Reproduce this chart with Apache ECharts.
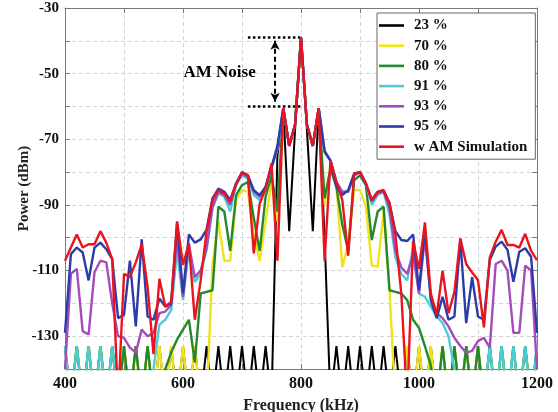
<!DOCTYPE html>
<html>
<head>
<meta charset="utf-8">
<script src="https://cdn.jsdelivr.net/npm/echarts@6/dist/echarts.min.js"></script>
<style>html,body{margin:0;padding:0;background:#fff}#c{width:558px;height:412px}</style>
</head>
<body>
<div id="c"></div>
<script>
const freq = [400,410,420,430,440,450,460,470,480,490,500,510,520,530,540,550,560,570,580,590,600,610,620,630,640,650,660,670,680,690,700,710,720,730,740,750,760,770,780,790,800,810,820,830,840,850,860,870,880,890,900,910,920,930,940,950,960,970,980,990,1000,1010,1020,1030,1040,1050,1060,1070,1080,1090,1100,1110,1120,1130,1140,1150,1160,1170,1180,1190,1200];
const seriesNames = ['23 %','70 %','80 %','91 %','93 %','95 %','w AM Simulation'];
const p23 = [-133,-150,-133,-150,-133,-150,-133,-150,-133,-150,
 -133,-150,-133,-150,-133,-150,-133,-150,-133,-150,
 -133,-150,-133,-150,-133,-150,-133,-150,-133,-150,
 -133,-150,-133,-150,-133,-150,-75,-60.5,-98,-67,
 -39,-67,-98,-60.5,-100,-150,-133,-150,-133,-150,
 -133,-150,-133,-150,-133,-150,-133,-150,-133,-150,
 -133,-150,-133,-150,-133,-150,-133,-150,-133,-150,
 -133,-150,-133,-150,-133,-150,-133,-150,-133,-150,
 -133];
const p70 = [-133,-150,-133,-150,-133,-150,-133,-150,-133,-150,
 -133,-150,-133,-150,-133,-150,-133,-150,-133,-150,
 -133,-150,-133,-150,-150,-108,-95,-107,-107,-88.5,
 -85.5,-86,-99,-107,-95,-83,-95,-60.5,-72,-65.5,
 -39,-65.5,-72,-60.5,-90,-78,-84,-109,-102,-85.5,
 -85.5,-90.5,-108.5,-108.8,-92,-116,-150,-150,-133,-150,
 -133,-150,-133,-150,-133,-150,-133,-150,-133,-150,
 -133,-150,-133,-150,-133,-150,-133,-150,-133,-150,
 -133];
const p80 = [-133,-150,-133,-150,-133,-150,-133,-150,-133,-150,
 -133,-150,-133,-150,-133,-150,-150,-140,-135,-131,
 -128,-125,-138,-117,-116.5,-116,-90.5,-92,-104,-87,
 -84,-83,-94,-104,-87.5,-81,-92,-60.5,-72,-65.5,
 -39,-65.5,-72,-60.5,-88,-79,-84.5,-96,-104,-82.5,
 -81,-84,-100.7,-92,-90.5,-116,-116.5,-117,-119,-125,
 -127.5,-133,-139,-150,-133,-150,-133,-150,-133,-150,
 -133,-150,-133,-150,-133,-150,-133,-150,-133,-150,
 -133];
const p91 = [-133,-150,-133,-150,-133,-150,-133,-150,-133,-150,
 -150,-150,-150,-150,-150,-140,-126.5,-125,-122,-104,
 -119,-103,-113.5,-111,-103.8,-91,-86.5,-87.5,-92,-84,
 -81,-82,-87,-88.5,-85,-79,-73,-60.5,-72,-65.5,
 -39,-65.5,-72,-60.5,-74,-76.5,-83,-86,-86,-81,
 -80,-83.5,-90,-87,-86,-93,-106,-111,-113,-103,
 -117,-118,-121,-124,-126,-130,-140,-150,-150,-150,
 -150,-150,-133,-150,-133,-150,-133,-150,-133,-150,
 -133];
const p93 = [-140,-111,-109.5,-128.5,-129.5,-110.5,-107,-107.5,-120,-130,
 -130.5,-133.5,-135,-128,-130,-129,-123,-122.5,-120.5,-100,
 -118,-102,-112,-110,-103,-90.5,-86,-87,-90,-83.5,
 -80.5,-81.5,-86,-87.5,-84.5,-78.5,-73,-60.5,-72,-65.5,
 -39,-65.5,-72,-60.5,-74,-76.5,-83,-86,-86,-81,
 -80,-83.5,-89,-86.5,-86,-91,-104,-109,-111,-105,
 -117,-100,-118,-123,-124.5,-127,-130.5,-133,-135,-134.5,
 -131.5,-130.5,-133.5,-108,-107,-110,-129,-129,-108.5,-110,
 -140];
const p95 = [-129,-105,-103,-104.5,-113,-103,-101.5,-103.5,-106.5,-124.5,
 -123.5,-107,-127,-100.5,-124,-125,-118.5,-121,-120,-95.5,
 -117,-99,-101.5,-100.5,-97.5,-88,-85,-86,-88.5,-83.5,
 -80,-81,-85.5,-87,-84.5,-78.4,-72,-60.5,-72,-65.5,
 -39,-65.5,-72,-60.5,-73.5,-76.5,-84.5,-87,-85.5,-80.5,
 -80,-83.5,-88.5,-86,-85.5,-89.5,-98,-100.7,-101,-99,
 -116,-97.6,-119,-124.5,-118,-125,-124,-100.7,-126,-112,
 -124,-125,-106.8,-102.7,-101.2,-103.7,-113.4,-104.3,-103.2,-105.8,
 -129];
const pSim = [-107,-103,-99,-103,-102,-102,-98,-101.5,-106.5,-150,
 -111,-112,-107.5,-102,-115,-135.5,-112.5,-121,-119.5,-95,
 -108.3,-101.7,-125,-113,-98,-88.5,-85.5,-86.5,-89,-83.5,
 -80.2,-80.9,-104.8,-89.6,-85,-77.4,-107,-60.5,-72,-65.5,
 -39,-65.5,-72,-60.5,-107,-76.5,-83,-88.5,-105.5,-80.5,
 -80,-83.5,-88.5,-86,-85.5,-89.5,-99,-117,-150,-101,
 -109.5,-95.3,-117,-123.5,-110,-123,-116.5,-100.2,-108,-110.6,
 -112.9,-127.3,-106,-101.2,-97.6,-102.2,-102.2,-103,-98.8,-104,
 -106.8];
const xTicks = [400,600,800,1000,1200];
const yTicks = [-30,-50,-70,-90,-110,-130];

const allValues = [p23,p70,p80,p91,p93,p95,pSim];
const colors = ['#000000','#f2e21c','#23882e','#4ccdd6','#a64abd','#2c3ca6','#e8141e'];
const font = '"Liberation Serif", "DejaVu Serif", serif';

const chart = echarts.init(document.getElementById('c'), null, {renderer:'canvas'});
const series = allValues.map((vals,i)=>({
  name: seriesNames[i], type:'line', xAxisIndex:0, yAxisIndex:0,
  data: freq.map((f,k)=>[f, vals[k]]),
  symbol:'none', clip:true, animation:false,
  lineStyle:{color:colors[i], width: i===0?2:2.4},
  itemStyle:{color:colors[i]}, z: 2+i
}));
series.push({
  name:'annot', type:'line', data:[[800,-300]], symbol:'none', lineStyle:{width:0}, clip:true, animation:false, z:20,
  markLine:{
    silent:true, animation:false, label:{show:false},
    data:[
      [{coord:[710,-38.8], symbol:'none', lineStyle:{type:[2.5,2.5], width:2.5, color:'#000'}},{coord:[800,-38.8], symbol:'none'}],
      [{coord:[710,-59.8], symbol:'none', lineStyle:{type:[2.5,2.5], width:2.5, color:'#000'}},{coord:[800,-59.8], symbol:'none'}],
      [{coord:[756,-40], symbol:'arrow', symbolSize:[7,9], lineStyle:{type:[5,3], width:2, color:'#000'}},{coord:[756,-58.6], symbol:'arrow', symbolSize:[7,9]}]
    ]
  },
  markPoint:{
    silent:true, animation:false, symbol:'rect', symbolSize:1, itemStyle:{color:'rgba(0,0,0,0)'},
    label:{show:true, position:'inside', formatter:'AM Noise', color:'#000', fontFamily:font, fontWeight:'bold', fontSize:17},
    data:[{coord:[662,-49.8]}]
  }
});

chart.setOption({
  animation:false,
  backgroundColor:'#fff',
  grid:{left:65, right:21, top:8, bottom:43, containLabel:false, outerBoundsMode:'none'},
  legend:{
    data: seriesNames.map(n=>({name:n, icon:'rect'})), orient:'vertical', left:377, top:13, padding:[5,8,5,2],
    itemWidth:25, itemHeight:2.6, itemGap:5.2,
    backgroundColor:'#fff', borderColor:'#666', borderWidth:1, borderRadius:0,
    textStyle:{fontFamily:font, fontWeight:'bold', fontSize:15, lineHeight:15, color:'#111', padding:[0,0,0,5]},
    z:30
  },
  xAxis:[{
    type:'value', min:400, max:1200, interval:100,
    name:'Frequency (kHz)', nameLocation:'middle', nameGap:29, nameMoveOverlap:false,
    nameTextStyle:{fontFamily:font, fontWeight:'bold', fontSize:16, color:'#222'},
    axisLine:{onZero:false, lineStyle:{color:'#7a7a7a', width:1}},
    axisTick:{inside:true, length:5, lineStyle:{color:'#7a7a7a'}},
    axisLabel:{margin:7, fontFamily:font, fontWeight:'bold', fontSize:16, color:'#111',
      formatter:v=> xTicks.includes(v) ? String(v) : ''},
    splitLine:{show:true, lineStyle:{type:[4,3], color:'#d4d4d4', width:1}}
  },{
    type:'value', min:400, max:1200, interval:100, position:'top',
    axisLine:{onZero:false, lineStyle:{color:'#7a7a7a', width:1}},
    axisTick:{inside:true, length:5, lineStyle:{color:'#7a7a7a'}},
    axisLabel:{show:false}, splitLine:{show:false}
  }],
  yAxis:[{
    type:'value', min:-140, max:-30, interval:10,
    name:'Power (dBm)', nameLocation:'middle', nameGap:33, nameMoveOverlap:false,
    nameTextStyle:{fontFamily:font, fontWeight:'bold', fontSize:15, color:'#222'},
    axisLine:{onZero:false, lineStyle:{color:'#7a7a7a', width:1}},
    axisTick:{inside:true, length:5, lineStyle:{color:'#7a7a7a'}},
    axisLabel:{margin:6, fontFamily:font, fontWeight:'bold', fontSize:15, color:'#111',
      formatter:v=> yTicks.includes(v) ? String(v) : ''},
    splitLine:{show:true, lineStyle:{type:[4,3], color:'#d4d4d4', width:1}}
  },{
    type:'value', min:-140, max:-30, interval:10, position:'right',
    axisLine:{onZero:false, lineStyle:{color:'#7a7a7a', width:1}},
    axisTick:{inside:true, length:5, lineStyle:{color:'#7a7a7a'}},
    axisLabel:{show:false}, splitLine:{show:false}
  }],
  series: series
});
</script>
</body>
</html>
